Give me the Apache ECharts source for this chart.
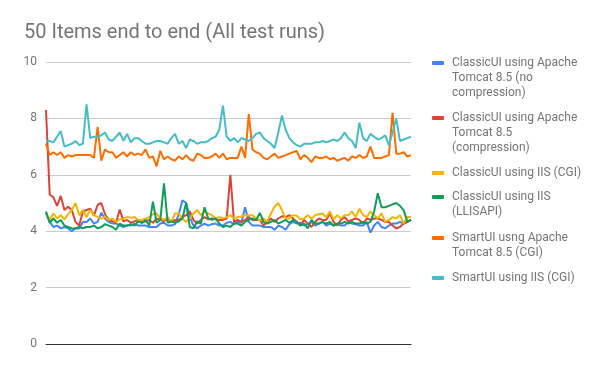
<!DOCTYPE html>
<html>
<head>
<meta charset="utf-8">
<script src="https://cdn.jsdelivr.net/npm/echarts@6/dist/echarts.min.js"></script>
<style>html,body{margin:0;padding:0;background:#fff}#c{width:600px;height:371px}</style>
</head>
<body>
<div id="c"></div>
<script>
const runs = [1,2,3,4,5,6,7,8,9,10,11,12,13,14,15,16,17,18,19,20,21,22,23,24,25,26,27,28,29,30,31,32,33,34,35,36,37,38,39,40,41,42,43,44,45,46,47,48,49,50,51,52,53,54,55,56,57,58,59,60,61,62,63,64,65,66,67,68,69,70,71,72,73,74,75,76,77,78,79,80,81,82,83,84,85,86,87,88,89,90,91,92,93,94,95,96,97,98,99,100];

const seriesNames = [
  "ClassicUI using Apache\nTomcat 8.5 (no\ncompression)",
  "ClassicUI using Apache\nTomcat 8.5\n(compression)",
  "ClassicUI using IIS (CGI)",
  "ClassicUI using IIS\n(LLISAPI)",
  "SmartUI usng Apache\nTomcat 8.5 (CGI)",
  "SmartUI using IIS (CGI)"
];

const tomcatNoCompression = [4.65,4.33,4.15,4.2,4.1,4.15,4.1,4.0,4.1,4.1,4.33,4.33,4.45,4.27,4.33,4.65,4.45,4.33,4.27,4.27,4.2,4.15,4.2,4.2,4.27,4.2,4.2,4.2,4.15,4.15,4.15,4.27,4.3,
  4.2,4.2,4.25,4.6,5.1,5.0,4.5,4.2,4.1,4.2,4.27,4.2,4.25,4.27,4.2,4.2,4.3,4.33,4.25,4.33,4.3,4.85,4.33,4.2,4.2,4.2,4.15,4.15,4.15,4.05,4.2,4.15,4.05,4.25,
  4.33,4.27,4.3,4.2,4.25,4.33,4.2,4.27,4.33,4.2,4.27,4.2,4.27,4.2,4.2,4.33,4.27,4.25,4.2,4.2,4.33,3.95,4.2,4.33,4.15,4.1,4.2,4.27,4.27,4.33,4.27,4.33,4.4];

const tomcatCompression = [8.3,5.3,5.2,4.9,5.25,4.75,4.87,4.75,4.33,4.2,4.7,4.75,4.8,4.55,4.93,5.0,4.6,4.4,4.35,4.3,4.77,4.35,4.4,4.3,4.35,4.4,4.3,4.35,4.4,4.3,4.45,4.4,4.35,
  4.45,4.33,4.4,4.4,4.5,4.57,4.7,4.4,4.27,4.4,4.5,4.42,4.45,4.42,4.4,4.4,4.45,6.0,4.33,4.4,4.33,4.4,4.5,4.4,4.4,4.4,4.2,4.33,4.45,4.33,4.45,4.53,4.5,4.57,
  4.45,4.33,4.2,4.4,4.27,4.15,4.33,4.45,4.4,4.4,4.63,4.33,4.2,4.4,4.5,4.35,4.4,4.45,4.4,4.27,4.45,4.4,4.45,4.45,4.4,4.33,4.33,4.2,4.1,4.15,4.27,4.33,4.4];

const iisCgi = [4.6,4.42,4.63,4.45,4.57,4.42,4.6,4.75,5.0,4.57,4.75,4.5,4.75,4.57,4.5,4.45,4.52,4.4,4.45,4.33,4.42,4.45,4.5,4.48,4.5,4.4,4.4,4.45,4.5,4.6,4.63,4.45,4.4,
  4.5,4.33,4.63,4.63,4.45,4.33,4.45,4.63,4.75,4.57,4.7,4.63,4.57,4.45,4.5,4.45,4.5,4.57,4.45,4.5,4.52,4.57,4.57,4.57,4.45,4.39,4.45,4.33,4.63,4.87,5.0,4.75,4.45,4.45,
  4.57,4.55,4.42,4.45,4.57,4.45,4.57,4.6,4.63,4.5,4.7,4.42,4.57,4.45,4.57,4.57,4.7,4.5,4.8,4.57,4.5,4.7,4.57,4.45,4.63,4.33,4.4,4.5,4.45,4.57,4.27,4.5,4.5];

const iisLlisapi = [4.7,4.3,4.45,4.3,4.4,4.2,4.15,4.1,4.1,4.15,4.1,4.15,4.15,4.2,4.1,4.15,4.25,4.2,4.15,4.05,4.27,4.2,4.2,4.25,4.2,4.35,4.3,4.4,4.2,5.05,4.3,4.4,5.7,
  4.3,4.35,4.3,4.35,4.45,5.0,4.15,4.1,4.35,4.27,4.85,4.45,4.4,4.45,4.27,4.15,4.2,4.15,4.27,4.27,4.2,4.33,4.4,4.45,4.4,4.65,4.33,4.27,4.33,4.4,4.27,4.33,4.4,4.3,
  4.4,4.33,4.2,4.27,4.1,4.4,4.27,4.27,4.33,4.27,4.33,4.2,4.27,4.27,4.33,4.27,4.33,4.27,4.27,4.33,4.27,4.33,4.7,5.35,4.85,4.85,4.9,4.95,5.0,4.9,4.75,4.33,4.4];

const smartTomcat = [7.1,6.7,6.8,6.7,6.8,6.6,6.7,6.65,6.7,6.7,6.7,6.7,6.7,6.6,7.7,6.5,6.9,6.8,6.8,6.6,6.7,6.8,6.65,6.8,6.7,
  6.75,6.7,6.9,6.6,6.65,6.3,6.85,6.55,6.65,6.55,6.5,6.65,6.55,6.7,6.55,6.5,6.75,6.7,6.6,6.6,6.65,6.75,6.6,6.75,6.55,6.6,
  6.6,6.6,7.0,6.6,8.15,6.9,6.8,6.75,6.6,6.55,6.65,6.75,6.6,6.65,6.7,6.75,6.8,6.85,6.55,6.7,6.6,6.45,6.65,6.6,6.6,
  6.65,6.55,6.6,6.5,6.55,6.6,6.5,6.65,6.6,6.7,6.6,6.65,7.0,6.6,6.6,6.6,6.65,6.7,8.2,6.75,6.75,6.8,6.65,6.7];

const smartIis = [7.2,7.2,7.15,7.35,7.55,7.0,7.05,7.1,7.2,7.05,7.1,8.5,7.3,7.35,7.35,7.4,7.5,7.25,7.2,7.35,7.5,7.2,7.45,7.15,
  7.3,7.3,7.2,7.1,7.1,7.15,7.2,7.2,7.15,7.1,7.3,7.45,7.1,7.2,6.95,7.25,7.2,7.1,7.15,7.15,7.2,7.3,
  7.35,7.6,8.45,7.35,7.2,7.3,7.15,7.3,7.25,7.2,7.3,7.45,7.5,7.3,7.2,7.1,6.95,7.5,8.1,7.6,7.3,7.15,7.05,7.0,7.1,7.1,7.1,7.15,
  7.15,7.2,7.15,7.2,7.25,7.2,7.3,7.5,7.3,7.2,6.95,7.85,7.3,7.2,7.45,7.35,7.25,7.3,7.4,7.05,7.5,8.0,7.2,7.25,7.3,7.35];

const yTicks = [0, 2, 4, 6, 8, 10];

const seriesData = [tomcatNoCompression, tomcatCompression, iisCgi, iisLlisapi, smartTomcat, smartIis];
const colors = ['#4285F4', '#DB4437', '#F4B400', '#0F9D58', '#FF6D01', '#46BDC6'];

const legendFirstLine = [63, 118, 173, 197, 238, 278];
const LH = 15;
const legends = seriesNames.map((name, k) => {
  const n = name.split('\n').length;
  return {
    data: [name],
    orient: 'vertical',
    left: 432,
    top: legendFirstLine[k] - LH / 2 - (n - 1) * LH,
    padding: 0,
    icon: 'roundRect',
    itemWidth: 12,
    itemHeight: 4,
    itemGap: 0,
    selectedMode: false,
    formatter: (nm) => ' \n'.repeat(n - 1) + nm,
    textStyle: {
      fontFamily: 'Roboto',
      fontSize: 12,
      color: '#757575',
      lineHeight: LH,
      padding: [0, 0, 0, 3]
    }
  };
});

const chart = echarts.init(document.getElementById('c'), null, { renderer: 'canvas' });
chart.setOption({
  animation: false,
  color: colors,
  title: {
    text: '50 Items end to end (All test runs)',
    left: 19,
    top: 18,
    textStyle: { fontFamily: 'Roboto', fontSize: 20, fontWeight: 'normal', color: '#757575' }
  },
  legend: legends,
  grid: { left: 46, right: 189, top: 62, bottom: 27, containLabel: false },
  xAxis: {
    type: 'category',
    data: runs,
    boundaryGap: false,
    axisLine: { show: true, lineStyle: { color: '#333', width: 1 } },
    axisTick: { show: false },
    axisLabel: { show: false },
    splitLine: { show: false }
  },
  yAxis: {
    type: 'value',
    min: yTicks[0],
    max: yTicks[yTicks.length - 1],
    interval: 2,
    axisLine: { show: false },
    axisTick: { show: false },
    axisLabel: { fontFamily: 'Roboto', fontSize: 12, color: '#757575', margin: 9 },
    splitLine: { lineStyle: { color: '#cccccc', width: 1 } }
  },
  series: seriesNames.map((name, k) => ({
    name: name,
    type: 'line',
    data: seriesData[k],
    symbol: 'none',
    lineStyle: { width: 2, color: colors[k] },
    itemStyle: { color: colors[k] },
    z: 2 + k
  }))
});
</script>
</body>
</html>
